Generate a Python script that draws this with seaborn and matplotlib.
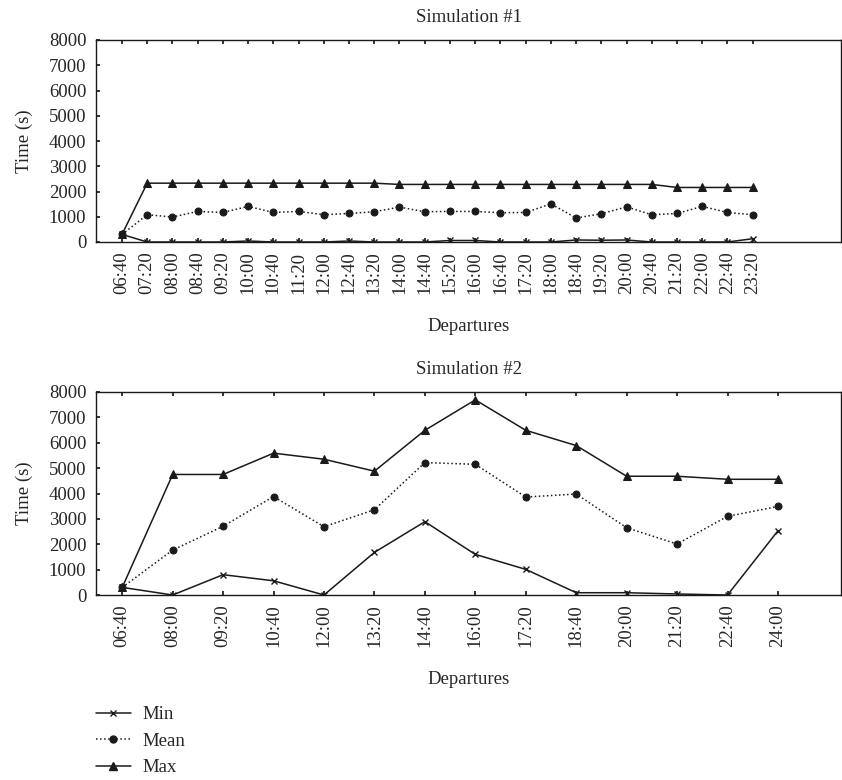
import numpy as np
import matplotlib
matplotlib.use("Agg")
import matplotlib.pyplot as plt
import seaborn as sns
from matplotlib.lines import Line2D

# ---------------- data ----------------
dep1 = ['06:40', '07:20', '08:00', '08:40', '09:20', '10:00', '10:40', '11:20', '12:00',
        '12:40', '13:20', '14:00', '14:40', '15:20', '16:00', '16:40', '17:20', '18:00',
        '18:40', '19:20', '20:00', '20:40', '21:20', '22:00', '22:40', '23:20']
min1 = [300, 0, 0, 0, 0, 40, 0, 0, 0, 40, 0, 0, 0, 60, 60, 0, 0, 0,
        80, 70, 80, 0, 0, 0, 0, 130]
mean1 = [300, 1080, 990, 1210, 1170, 1410, 1170, 1210, 1080, 1130, 1200, 1380, 1200,
         1210, 1210, 1160, 1170, 1510, 950, 1120, 1390, 1080, 1130, 1410, 1170, 1080]
max1 = [300, 2330, 2330, 2330, 2330, 2330, 2330, 2330, 2330, 2330, 2330, 2280, 2280,
        2280, 2280, 2280, 2280, 2280, 2280, 2280, 2280, 2280, 2160, 2160, 2160, 2160]

dep2 = ['06:40', '08:00', '09:20', '10:40', '12:00', '13:20', '14:40', '16:00', '17:20',
        '18:40', '20:00', '21:20', '22:40', '24:00']
min2 = [300, 0, 800, 560, 0, 1680, 2890, 1600, 1010, 90, 90, 40, 0, 2530]
mean2 = [300, 1770, 2710, 3880, 2690, 3360, 5220, 5150, 3860, 3980, 2650, 2010, 3100, 3490]
max2 = [300, 4750, 4750, 5590, 5350, 4880, 6490, 7690, 6490, 5890, 4680, 4680, 4560, 4560]

# ---------------- style ----------------
sns.set_theme(style="ticks")
plt.rcParams['font.family'] = ['Liberation Serif', 'DejaVu Serif']
FS = 13.5
INK = '#1a1a1a'

series_style = [
    ('Min', dict(linestyle='-', marker='x', markersize=4, markeredgewidth=1.0)),
    ('Mean', dict(linestyle=':', marker='o', markersize=5)),
    ('Max', dict(linestyle='-', marker='^', markersize=5.5)),
]

fig = plt.figure(figsize=(8.42, 7.80), dpi=100)
ax1 = fig.add_axes([96 / 842, 1 - 242 / 780, 745 / 842, 202 / 780])
ax2 = fig.add_axes([96 / 842, 1 - 595 / 780, 745 / 842, 203 / 780])


def draw(ax, labels, vals, title, xmin, xmax):
    x = np.arange(len(labels))
    for (name, st), v in zip(series_style, vals):
        sns.lineplot(x=x, y=v, ax=ax, color=INK, linewidth=1.1,
                     markeredgecolor=INK, markerfacecolor=INK, **st)
    ax.set_xlim(xmin, xmax)
    ax.set_ylim(0, 8000)
    ax.set_yticks(range(0, 8001, 1000))
    ax.set_xticks(x)
    ax.set_xticklabels(labels, rotation=90)
    ax.tick_params(axis='both', direction='in', length=3, labelsize=FS, color=INK,
                   top=True, pad=7)
    ax.set_title(title, fontsize=FS, pad=13)
    ax.set_ylabel('Time (s)', fontsize=FS, labelpad=11)
    ax.set_xlabel('Departures', fontsize=FS, labelpad=17)
    for sp in ax.spines.values():
        sp.set_linewidth(1.0)
        sp.set_color(INK)


draw(ax1, dep1, [min1, mean1, max1], 'Simulation #1', -1.03, 28.5)
draw(ax2, dep2, [min2, mean2, max2], 'Simulation #2', -0.52, 14.25)

handles = [Line2D([], [], color=INK, linewidth=1.1, **st) for _, st in series_style]
fig.legend(handles, [n for n, _ in series_style], loc='center left',
           bbox_to_anchor=(96 / 842, 1 - 741 / 780), frameon=False, fontsize=FS,
           handlelength=1.85, labelspacing=0.5, handletextpad=0.65,
           borderpad=0, borderaxespad=0)

fig.savefig('out.png', dpi=100)
